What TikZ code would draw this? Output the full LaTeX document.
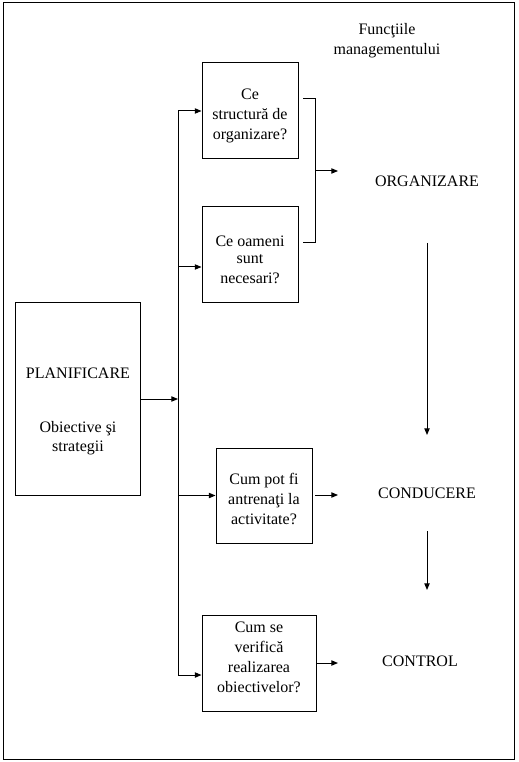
\documentclass[tikz,border=0pt]{standalone}
\usepackage{fontspec}
\setmainfont{Liberation Serif}
\usetikzlibrary{arrows.meta}
\begin{document}
\begin{tikzpicture}[x=0.75pt,y=-0.75pt,
  line width=0.75pt,
  font=\fontsize{12}{15}\selectfont,
  box/.style={draw,rectangle,inner sep=0pt},
  lbl/.style={inner sep=0pt,align=center},
  arr/.style={-{Triangle[length=5pt,width=4pt]}}]
\useasboundingbox (0,0) rectangle (518,762);
\draw (3,3) rectangle (514,759);
% title
\node[lbl] (title) at (387,41) {Funcţiile\\managementului};
% boxes
\node[box,minimum width=93.75pt,minimum height=144pt] (plan) at (77.5,399) {};
\node[box,minimum width=72pt,minimum height=72pt] (b1) at (250,111) {};
\node[box,minimum width=72pt,minimum height=72pt] (b2) at (250,255) {};
\node[box,minimum width=72pt,minimum height=71.25pt] (b3) at (264,495.5) {};
\node[box,minimum width=85.5pt,minimum height=72pt] (b4) at (259,663) {};
% box texts
\node[lbl] (plant) at (78,373) {PLANIFICARE};
\node[lbl] (plans) at (78,438) {Obiective şi\\[-1pt]strategii};
\node[lbl] (b1t) at (250,116) {Ce\\structură de\\organizare?};
\node[lbl] (b2t) at (250,260) {Ce oameni\\[-2pt]sunt\\necesari?};
\node[lbl] (b3t) at (264,499) {Cum pot fi\\antrenaţi la\\activitate?};
\node[lbl] (b4t) at (259,657.5) {Cum se\\verifică\\realizarea\\obiectivelor?};
% function labels
\node[lbl] (org) at (427,181) {ORGANIZARE};
\node[lbl] (cond) at (427,493) {CONDUCERE};
\node[lbl] (ctrl) at (420,661) {CONTROL};
% trunk coordinates
\coordinate (tin) at (178,399);
\coordinate (ttop) at (178,111);
\coordinate (t2) at (178,267);
\coordinate (t3) at (178,495.5);
\coordinate (tbot) at (178,675);
\draw[arr] (plan.east |- tin) -- (tin);
\draw (ttop) -- (tbot);
\draw[arr] (ttop) -- (b1.west |- ttop);
\draw[arr] (t2) -- (b2.west |- t2);
\draw[arr] (t3) -- (b3.west |- t3);
\draw[arr] (tbot) -- (b4.west |- tbot);
% bracket
\coordinate (br1) at (303,99);
\coordinate (br2) at (315,99);
\coordinate (br3) at (315,243);
\coordinate (br4) at (303,243);
\coordinate (brm) at (315,171);
\coordinate (orgin) at (338,171);
\draw (br1) -- (br2) -- (br3) -- (br4);
\draw[arr] (brm) -- (orgin);
% outgoing arrows
\coordinate (o3a) at (315,495);
\coordinate (o3b) at (338,495);
\coordinate (o4a) at (316,663);
\coordinate (o4b) at (338,663);
\draw[arr] (o3a) -- (o3b);
\draw[arr] (o4a) -- (o4b);
% vertical arrows
\coordinate (v1a) at (427,243);
\coordinate (v1b) at (427,435);
\coordinate (v2a) at (427,531);
\coordinate (v2b) at (427,590);
\draw[arr] (v1a) -- (v1b);
\draw[arr] (v2a) -- (v2b);
\end{tikzpicture}
\end{document}
